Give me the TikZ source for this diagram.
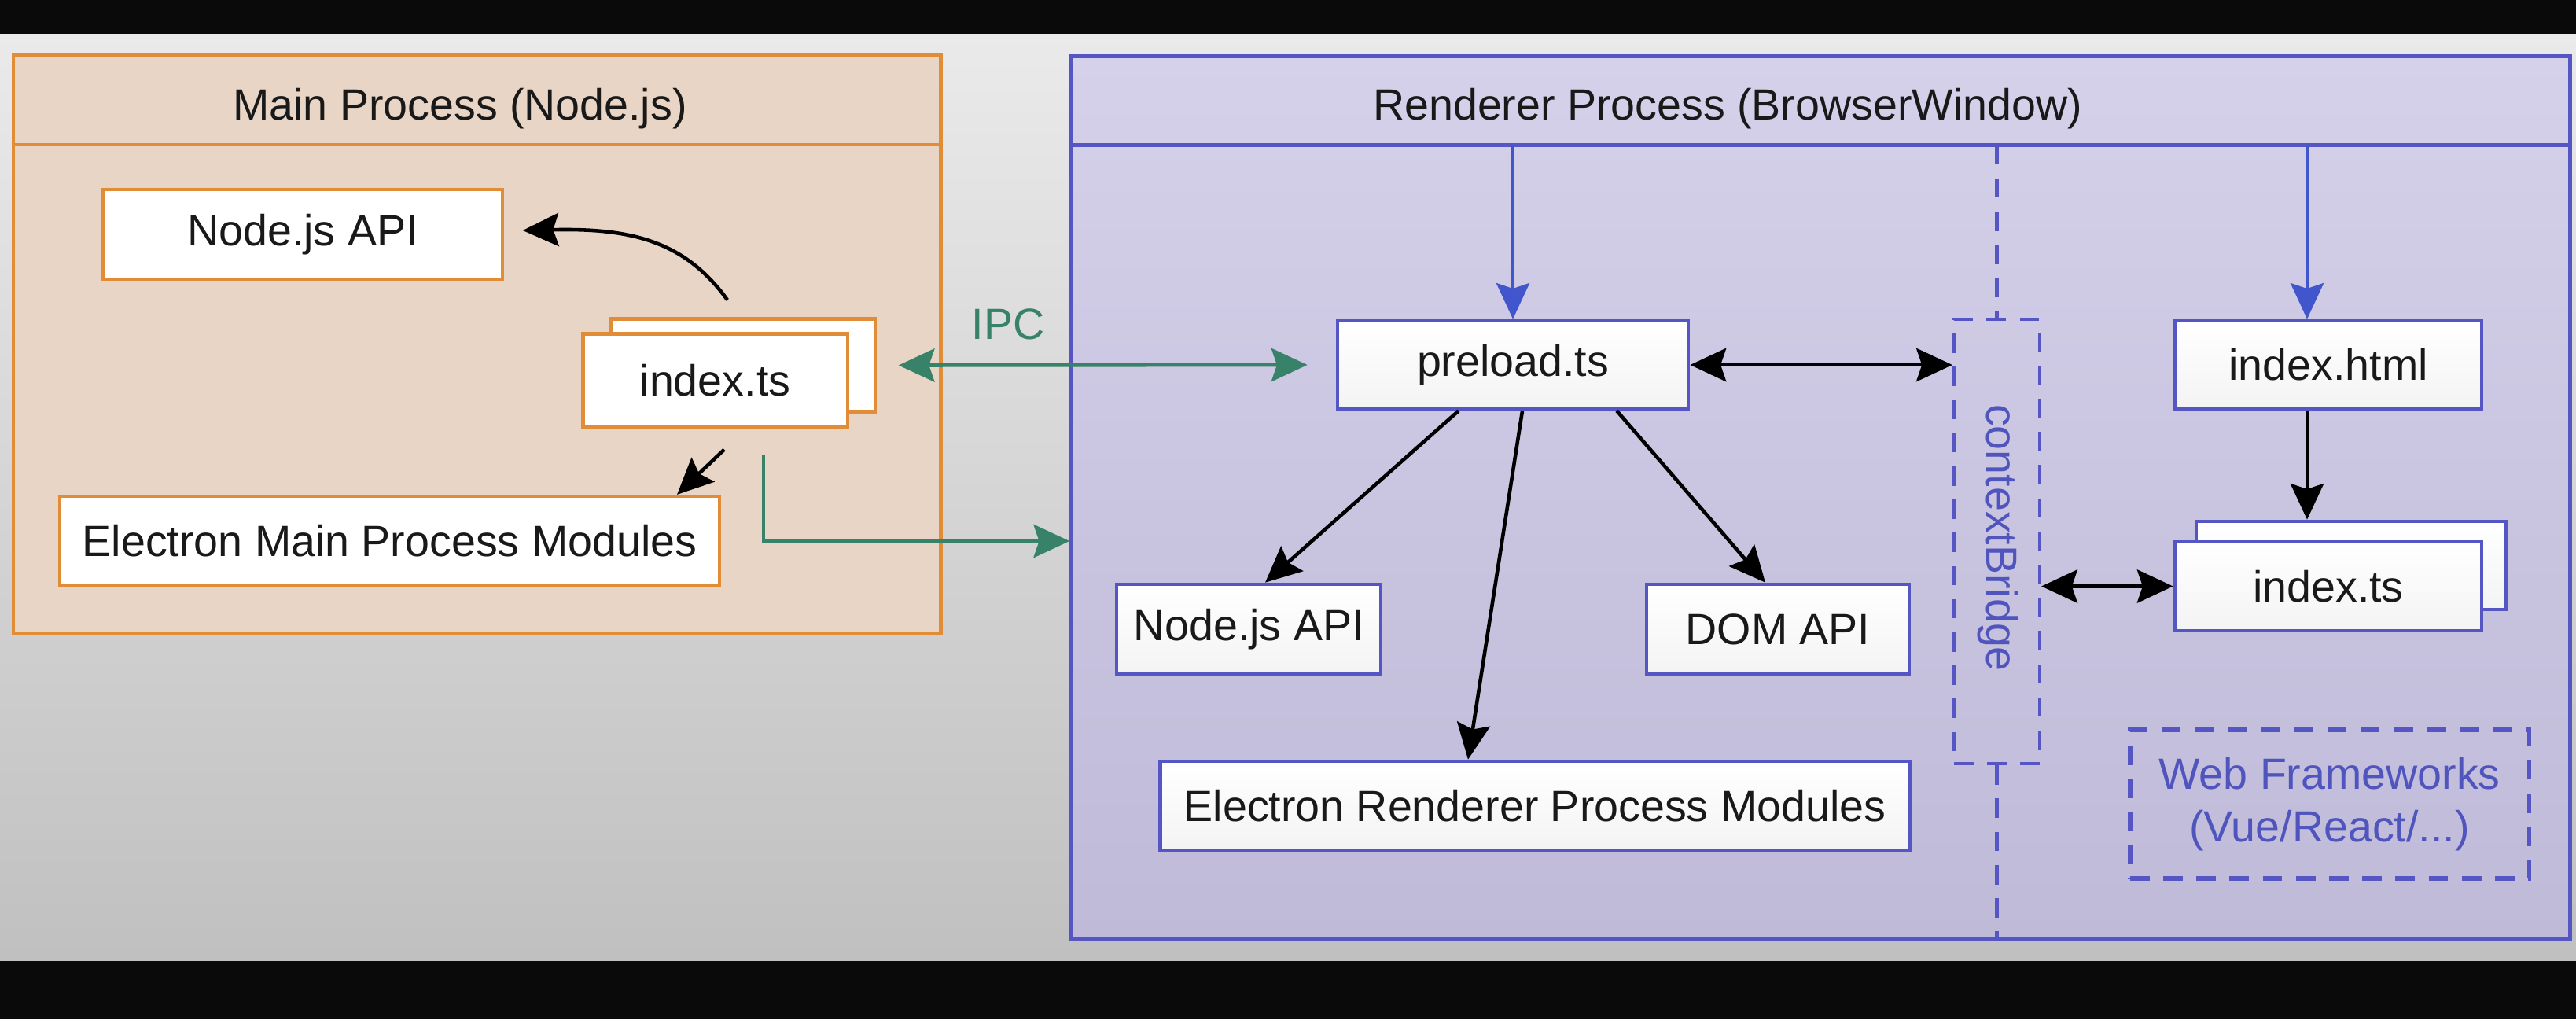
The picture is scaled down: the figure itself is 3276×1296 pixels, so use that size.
\documentclass[tikz,border=0pt]{standalone}
\usepackage{fontspec}
\setmainfont{Liberation Sans}
\usetikzlibrary{arrows.meta,calc}
\definecolor{orng}{RGB}{225,140,55}
\definecolor{peach}{RGB}{232,213,197}
\definecolor{rblue}{RGB}{85,85,195}
\definecolor{lblue}{RGB}{80,85,190}
\definecolor{lav}{RGB}{213,209,234}
\definecolor{lavbot}{RGB}{190,186,216}
\definecolor{ablue}{RGB}{65,85,205}
\definecolor{ipcgreen}{RGB}{55,130,105}
\definecolor{txt}{RGB}{25,25,25}
\definecolor{bgtop}{RGB}{234,234,234}
\definecolor{bgbot}{RGB}{192,192,192}
\definecolor{barblack}{RGB}{10,10,10}
\begin{document}
\begin{tikzpicture}[x=0.01cm,y=-0.01cm,
  font=\fontsize{15.8}{19}\selectfont, text=txt,
  tipend/.style={-{Stealth[length=13pt,width=12pt,inset=2pt]}},
  tipboth/.style={{Stealth[length=13pt,width=12pt,inset=2pt]}-{Stealth[length=13pt,width=12pt,inset=2pt]}},
  mbox/.style={draw=orng, line width=1.2pt, fill=white, inner sep=0pt},
  rbox/.style={draw=rblue, line width=1.3pt, top color=white, bottom color=gray!9, inner sep=0pt},
  cbdash/.style={dash pattern=on 7pt off 5pt},
  blackarrow/.style={black, line width=1.3pt, tipend},
  bluearrow/.style={ablue, line width=1pt, tipend},
  greenline/.style={ipcgreen, line width=1.3pt}
]
\useasboundingbox (0,0) rectangle (3276,1296);
% background
\fill[barblack] (0,0) rectangle (3276,1296);
\shade[top color=bgtop, bottom color=bgbot] (0,43) rectangle (3276,1221);

% ---------- Main process ----------
\node[draw=orng, fill=peach, line width=1.2pt, inner sep=0pt,
      minimum width=11.79cm, minimum height=7.35cm] (mainbox) at (606.75,437.5) {};
\coordinate (mh) at (0,184);
\draw[orng, line width=1.2pt] (mainbox.west |- mh) -- (mainbox.east |- mh);
\node (mtitle) at (585,138) {Main Process (Node.js)};

\node[mbox, minimum width=5.07cm, minimum height=1.14cm] (napiM) at (385,298) {Node.js API};
\node[mbox, minimum width=3.36cm, minimum height=1.18cm] (idxMback) at (944.5,464.5) {};
\node[mbox, minimum width=3.36cm, minimum height=1.18cm] (idxM) at (909.5,483.5) {index.ts};
\node[mbox, minimum width=8.39cm, minimum height=1.14cm] (emm) at (495.5,688) {Electron Main Process Modules};

% ---------- Renderer process ----------
\node[draw=rblue, top color=lav, bottom color=lavbot, line width=1.3pt, inner sep=0pt,
      minimum width=19.05cm, minimum height=11.21cm] (rendbox) at (2315.5,632.5) {};
\coordinate (rh) at (0,184.5);
\draw[rblue, line width=1.3pt] (rendbox.west |- rh) -- (rendbox.east |- rh);
\node (rtitle) at (2197,138) {Renderer Process (BrowserWindow)};

\node[rbox, minimum width=4.46cm, minimum height=1.12cm] (preload) at (1924,464) {preload.ts};
\node[rbox, minimum width=3.90cm, minimum height=1.12cm] (idxhtml) at (2961,464) {index.html};
\node[rbox, minimum width=3.36cm, minimum height=1.14cm] (napiR) at (1588,800) {Node.js API};
\node[rbox, minimum width=3.34cm, minimum height=1.14cm] (dom) at (2261,800) {DOM API};
\node[rbox, minimum width=9.52cm, minimum height=1.14cm] (erpm) at (1952,1025) {Electron Renderer Process Modules};
\node[rbox, minimum width=3.94cm, minimum height=1.12cm] (idxRback) at (2990,719) {};
\node[rbox, minimum width=3.90cm, minimum height=1.13cm] (idxR) at (2961,745.5) {index.ts};

\node[draw=rblue, cbdash, line width=1.2pt, inner sep=0pt,
      minimum width=1.09cm, minimum height=5.65cm] (cb) at (2539.5,688.5) {};
\node[rotate=-90, text=lblue] (cbtext) at (2541,684) {contextBridge};

\node[draw=rblue, cbdash, line width=1.5pt, inner sep=0pt, align=center, text=lblue,
      minimum width=5.07cm, minimum height=1.89cm] (webfw) at (2962.5,1022.5) {Web Frameworks\\(Vue/React/...)};

% dashed separator
\draw[rblue, cbdash, line width=1.2pt] (cb.north |- rh) -- (cb.north);
\draw[rblue, cbdash, line width=1.2pt] (cb.south) -- (cb.south |- rendbox.south);

% blue arrows from header
\draw[bluearrow] (preload.north |- rh) -- (preload.north);
\coordinate (hh) at (2934,184.5);
\draw[bluearrow] (hh) -- (hh |- idxhtml.north);

% renderer arrows
\draw[blackarrow] (hh |- idxhtml.south) -- (hh |- idxRback.north);
\draw[black, line width=1.4pt, tipboth] (preload.east) -- (cb.west |- preload.east);
\draw[black, line width=1.4pt, tipboth] (cb.east |- idxR.west) -- (idxR.west);
\draw[blackarrow] ([xshift=-0.69cm]preload.south) -- ([xshift=0.21cm]napiR.north);
\draw[blackarrow] ([xshift=0.12cm]preload.south) -- ([xshift=-0.85cm]erpm.north);
\draw[blackarrow] ([xshift=1.32cm]preload.south) -- ([xshift=-0.16cm]dom.north);

% main arrows
\coordinate (cs) at ($(idxMback.north)+(-19.5,-22)$);
\coordinate (ce) at ($(napiM.east)+(24,-5)$);
\draw[blackarrow] (cs) .. controls (870,305) and (800,290) .. (ce);
\coordinate (es) at ($(idxM.south)+(11.5,27)$);
\coordinate (ee) at ($(emm.north)+(365.5,0)$);
\draw[blackarrow] (es) -- (ee);

% IPC
\coordinate (ipcL) at ($(idxMback.east)+(28,0)$);
\coordinate (ipcR) at ($(preload.west)+(-36,0)$);
\draw[greenline, tipboth] (ipcL) -- (ipcR);
\node[text=ipcgreen] (ipc) at (1282,412) {IPC};
\coordinate (gs) at ($(idxM.south)+(61.5,33)$);
\draw[greenline, tipend] (gs) |- (rendbox.west |- emm.center);
\end{tikzpicture}
\end{document}
